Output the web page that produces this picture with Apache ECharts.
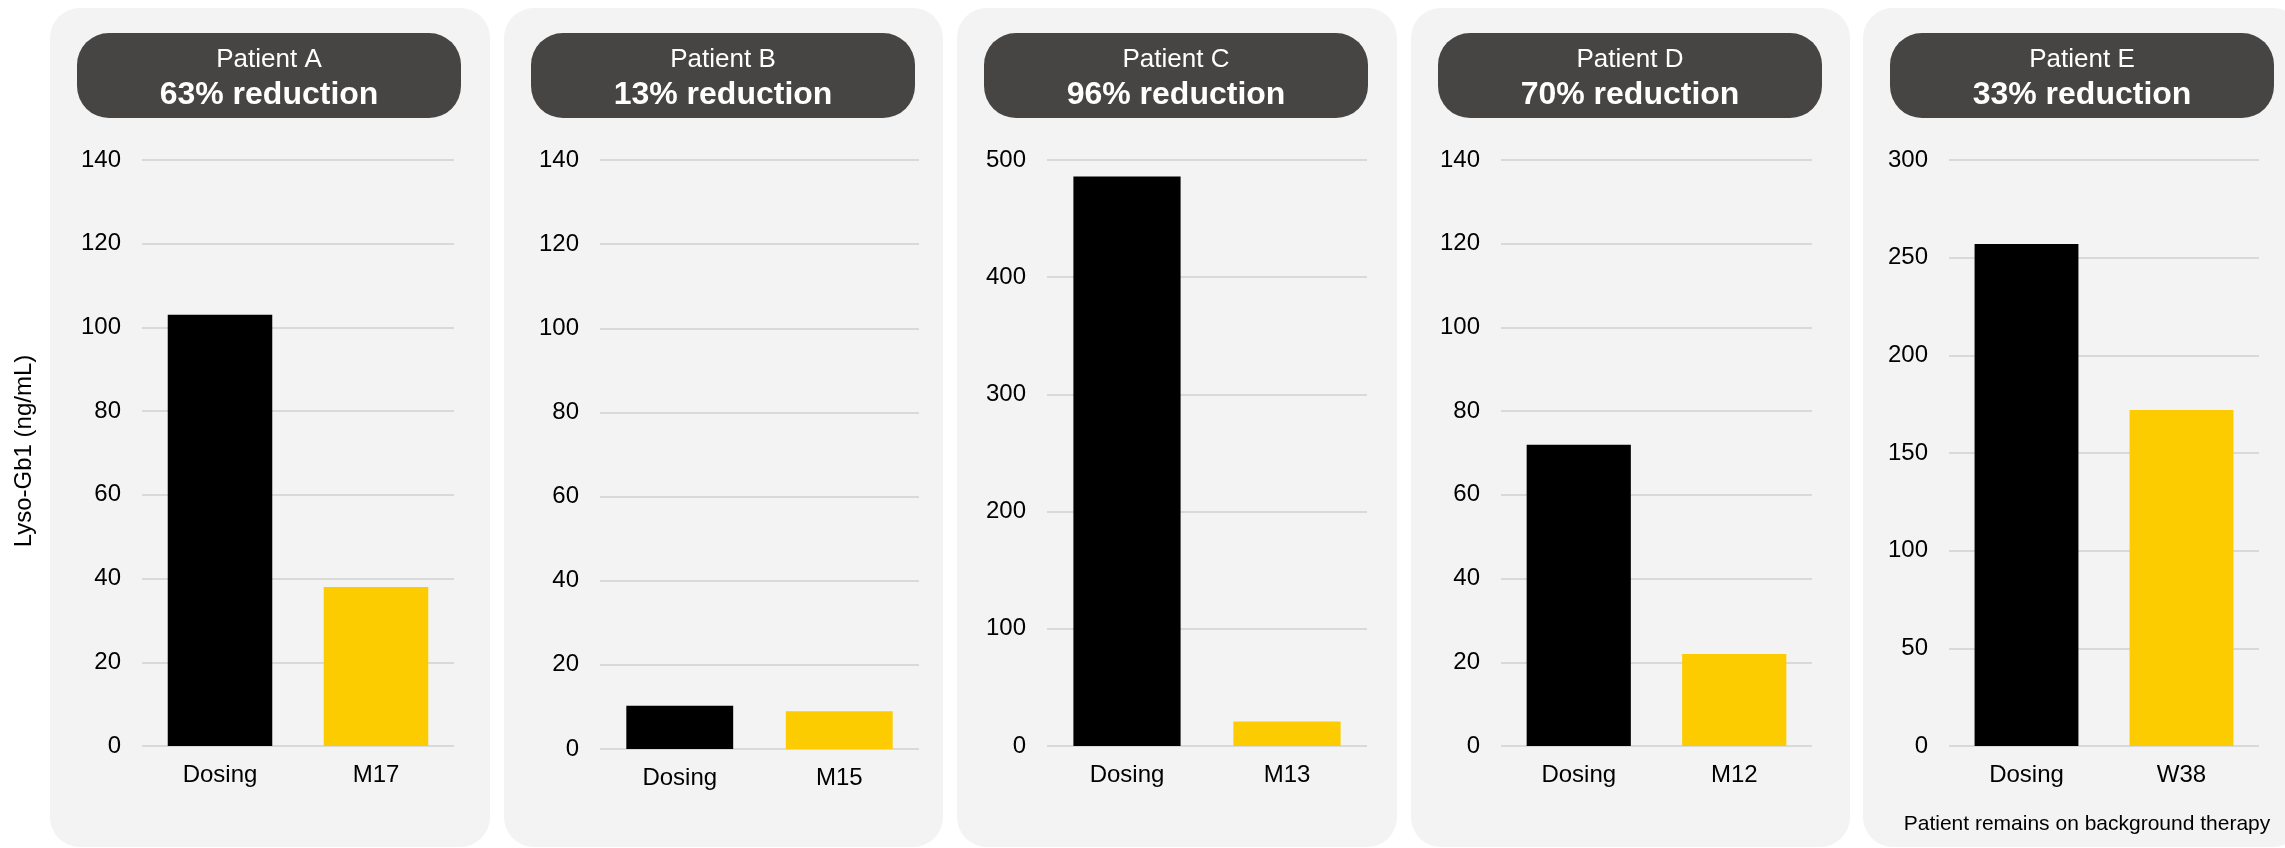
<!DOCTYPE html>
<html>
<head>
<meta charset="utf-8">
<script src="https://cdn.jsdelivr.net/npm/echarts@6/dist/echarts.min.js"></script>
<style>
  html, body { margin: 0; padding: 0; background: #ffffff; }
  #chart { width: 2285px; height: 848px; }
</style>
</head>
<body>
<div id="chart"></div>
<script>
// ---- Data ----
const patients = ['Patient A', 'Patient B', 'Patient C', 'Patient D', 'Patient E'];
const reductions = ['63% reduction', '13% reduction', '96% reduction', '70% reduction', '33% reduction'];
const dosingLabel = 'Dosing';
const followUpLabels = ['M17', 'M15', 'M13', 'M12', 'W38'];
const dosingValues = [103, 10.3, 486, 72, 257];
const followUpValues = [38, 9, 21, 22, 172];
const yMaxes = [140, 140, 500, 140, 300];
const yIntervals = [20, 20, 100, 20, 50];
const yAxisTitle = 'Lyso-Gb1 (ng/mL)';
const footnote = 'Patient remains on background therapy';

// ---- Layout ----
const FONT = '"Liberation Sans", Arial, Helvetica, sans-serif';
const panelX = [50, 504, 957, 1411, 1863];
const panelW = [440, 439, 440, 439, 440];
const gridRects = [
  { left: 142, width: 312, top: 160, height: 586 },
  { left: 600, width: 319, top: 160, height: 589 },
  { left: 1047, width: 320, top: 160, height: 586 },
  { left: 1501, width: 311, top: 160, height: 586 },
  { left: 1949, width: 310, top: 160, height: 586 }
];
const BLACK = '#000000';
const YELLOW = '#fccc00';

const grids = [], xAxes = [], yAxes = [], series = [], graphics = [];

patients.forEach((p, i) => {
  grids.push(Object.assign({ containLabel: false }, gridRects[i]));
  xAxes.push({
    type: 'category',
    gridIndex: i,
    data: [dosingLabel, followUpLabels[i]],
    axisLine: { show: false },
    axisTick: { show: false },
    axisLabel: { color: '#000', fontSize: 24, fontFamily: FONT, margin: 17 }
  });
  yAxes.push({
    type: 'value',
    gridIndex: i,
    min: 0,
    max: yMaxes[i],
    interval: yIntervals[i],
    axisLine: { show: false },
    axisTick: { show: false },
    axisLabel: { color: '#000', fontSize: 24, fontFamily: FONT, margin: 21 },
    splitLine: { lineStyle: { color: '#d9d9d9', width: 2 } }
  });
  series.push({
    type: 'bar',
    xAxisIndex: i,
    yAxisIndex: i,
    barWidth: '67%',
    silent: true,
    data: [
      { value: dosingValues[i], itemStyle: { color: BLACK } },
      { value: followUpValues[i], itemStyle: { color: YELLOW } }
    ]
  });
  // panel background
  graphics.push({
    type: 'rect', z: -10,
    shape: { x: panelX[i], y: 8, width: panelW[i], height: 839, r: 30 },
    style: { fill: '#f3f3f3' }
  });
  // header pill
  graphics.push({
    type: 'rect', z: -5,
    shape: { x: panelX[i] + 27, y: 33, width: 384, height: 85, r: 32 },
    style: { fill: '#474543' }
  });
  graphics.push({
    type: 'text', z: 10,
    x: panelX[i] + 219, y: 59.5,
    style: { text: p, fill: '#ffffff', font: '26px ' + FONT, textAlign: 'center', textVerticalAlign: 'middle' }
  });
  graphics.push({
    type: 'text', z: 10,
    x: panelX[i] + 219, y: 95.5,
    style: { text: reductions[i], fill: '#ffffff', font: 'bold 32px ' + FONT, textAlign: 'center', textVerticalAlign: 'middle' }
  });
});

// y axis title
graphics.push({
  type: 'text', z: 10,
  x: 24, y: 451, rotation: Math.PI / 2,
  style: { text: yAxisTitle, fill: '#000', font: '24px ' + FONT, textAlign: 'center', textVerticalAlign: 'middle' }
});
// footnote
graphics.push({
  type: 'text', z: 10,
  x: 2087, y: 824,
  style: { text: footnote, fill: '#000', font: '21px ' + FONT, textAlign: 'center', textVerticalAlign: 'middle' }
});

const chart = echarts.init(document.getElementById('chart'), null, { renderer: 'canvas' });
chart.setOption({
  animation: false,
  backgroundColor: '#ffffff',
  grid: grids,
  xAxis: xAxes,
  yAxis: yAxes,
  series: series,
  graphic: { elements: graphics }
});
</script>
</body>
</html>
